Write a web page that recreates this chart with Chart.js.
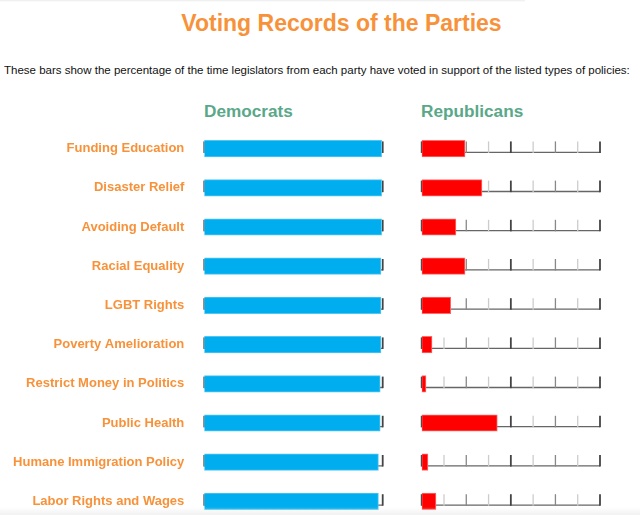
<!DOCTYPE html>
<html><head><meta charset="utf-8">
<script src="https://cdn.jsdelivr.net/npm/chart.js@4"></script>
<style>
html,body{margin:0;padding:0;background:#fff;overflow:hidden;width:640px;height:515px;font-family:'Liberation Sans',Arial,Helvetica,sans-serif;}
.t{position:absolute;white-space:nowrap;line-height:1;}
canvas{position:absolute;display:block;}
</style></head><body>
<div style="position:absolute;left:0;top:0;width:525px;height:2px;background:linear-gradient(#ececec,#fff)"></div>
<div class="t" style="left:0;width:683px;text-align:center;top:12.2px;font-size:23px;font-weight:bold;color:#f7923a">Voting Records of the Parties</div>
<div class="t" style="left:4px;top:65.2px;font-size:11.5px;color:#111">These bars show the percentage of the time legislators from each party have voted in support of the listed types of policies:</div>
<div class="t" style="left:204px;top:102.5px;font-size:17.2px;font-weight:bold;color:#5aa889">Democrats</div>
<div class="t" style="left:421px;top:102.5px;font-size:17.2px;font-weight:bold;color:#5aa889">Republicans</div>
<canvas id="ca" width="386" height="392" style="left:0;top:128.7px;width:386px;height:392px"></canvas>
<canvas id="cb" width="195" height="392" style="left:410px;top:128.7px;width:195px;height:392px"></canvas>
<div style="position:absolute;left:0;top:507px;width:640px;height:8px;background:linear-gradient(rgba(240,240,240,0),rgba(238,238,238,0.8))"></div>
<script>
const categories = ["Funding Education","Disaster Relief","Avoiding Default","Racial Equality","LGBT Rights","Poverty Amelioration","Restrict Money in Politics","Public Health","Humane Immigration Policy","Labor Rights and Wages"];
const democrats = [99.4,99.4,99.4,99,99,99,98.6,98.6,97.6,97.6];
const republicans = [24.3,33.8,19.2,24.3,16.3,5.8,2.4,42.4,3.5,8];
const tickValues = [0,12.5,25,37.5,50,62.5,75,87.5,100];

const rowAxes = {
  id:'rowAxes',
  beforeDatasetsDraw(chart){
    const ctx = chart.ctx, xs = chart.scales.x, ys = chart.scales.y;
    ctx.save();
    const x0 = xs.getPixelForValue(tickValues[0]);
    const x1 = xs.getPixelForValue(tickValues[tickValues.length-1]);
    categories.forEach((c,i)=>{
      const yc = ys.getPixelForValue(i);
      const yl = yc + 3.7;
      ctx.strokeStyle = '#666'; ctx.lineWidth = 1.3;
      ctx.beginPath(); ctx.moveTo(x0, yl); ctx.lineTo(x1, yl); ctx.stroke();
      tickValues.forEach((v,k)=>{
        const x = xs.getPixelForValue(v);
        ctx.strokeStyle = k%4===0 ? '#444' : (k%2===0 ? '#888' : '#cccccc');
        ctx.lineWidth = k%4===0 ? 1.8 : 1.3;
        ctx.beginPath(); ctx.moveTo(x, yc-7.2); ctx.lineTo(x, yl+0.65); ctx.stroke();
      });
    });
    ctx.restore();
  }
};

function makeChart(id, values, color, border, showLabels, pad){
  const yScale = {type:'category', display:showLabels, grid:{display:false, drawTicks:false}, border:{display:false},
    ticks:{color:'#f7923a', padding:20, autoSkip:false, font:{family:"'Liberation Sans', Arial, sans-serif", size:13, weight:'bold'}}};
  if (showLabels) {
    yScale.afterFit = function(s){ s.width = 204.3; s.paddingTop = 0; s.paddingBottom = 0; };
  }
  return new Chart(document.getElementById(id), {
    type:'bar',
    data:{labels:categories, datasets:[{data:values, backgroundColor:color, borderColor:border, borderWidth:1, borderSkipped:false, barThickness:16.5}]},
    options:{
      indexAxis:'y', responsive:false, maintainAspectRatio:false, animation:false, devicePixelRatio:1,
      layout:{padding:pad},
      plugins:{legend:{display:false}, tooltip:{enabled:false}, title:{display:false}},
      scales:{
        x:{type:'linear', min:0, max:100, display:false},
        y:yScale
      }
    },
    plugins:[rowAxes]
  });
}
makeChart('ca', democrats, '#00aeef', '#52c6f2', true, {left:0, right:3.3, top:0, bottom:0});
makeChart('cb', republicans, '#ff0000', '#ff6b6b', false, {left:11.7, right:5, top:0, bottom:0});
</script>
</body></html>
